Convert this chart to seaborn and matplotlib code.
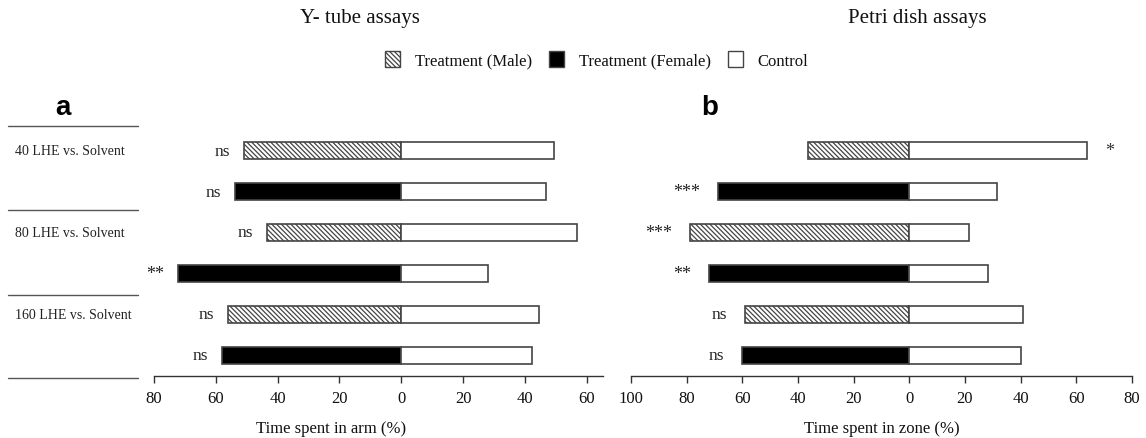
import matplotlib
matplotlib.use("Agg")
import numpy as np
import pandas as pd
import seaborn as sns
import matplotlib.pyplot as plt
from matplotlib.patches import Patch

# ---------------- data ----------------
rows = ["40 LHE Male", "40 LHE Female", "80 LHE Male", "80 LHE Female",
        "160 LHE Male", "160 LHE Female"]
sex = ["Male", "Female", "Male", "Female", "Male", "Female"]
group_labels = ["40 LHE vs. Solvent", "80 LHE vs. Solvent", "160 LHE vs. Solvent"]

ytube_treatment = [51.0, 53.7, 43.4, 72.2, 55.9, 58.1]
ytube_control = [49.3, 46.7, 56.8, 28.1, 44.5, 42.2]
ytube_sig = ["ns", "ns", "ns", "**", "ns", "ns"]

petri_treatment = [36.3, 68.8, 78.8, 72.1, 59.0, 60.0]
petri_control = [63.9, 31.5, 21.6, 28.1, 41.0, 40.0]
petri_sig = ["*", "***", "***", "**", "ns", "ns"]

ytube_ticks = [-80, -60, -40, -20, 0, 20, 40, 60]
petri_ticks = [-100, -80, -60, -40, -20, 0, 20, 40, 60, 80]

# ---------------- style ----------------
sns.set_theme(style="white")
plt.rcParams["font.family"] = ["Liberation Serif", "DejaVu Serif"]
plt.rcParams["hatch.linewidth"] = 0.9
plt.rcParams["hatch.color"] = "#222222"

W, H = 1146, 439
fig = plt.figure(figsize=(W / 100, H / 100), dpi=100)

ax_bottom_px, ax_top_px = 377, 121
b = 1 - ax_bottom_px / H
h = (ax_bottom_px - ax_top_px) / H
YLIM = (5.51, -0.75)

axL = fig.add_axes([154 / W, b, 449 / W, h])
axR = fig.add_axes([631 / W, b, 501 / W, h])
axLab = fig.add_axes([8 / W, b, 130 / W, h])

EDGE = "#444444"
HATCH = "\\" * 7


def draw(ax, treat, ctrl, sig, xlim, ticks, gap_px, xlabel, xlabel_x):
    df = pd.DataFrame({"row": rows, "treat": -np.array(treat), "ctrl": ctrl})
    sns.barplot(data=df, y="row", x="treat", order=rows, color="black",
                saturation=1, width=0.42, edgecolor=EDGE, linewidth=1.2,
                errorbar=None, ax=ax)
    sns.barplot(data=df, y="row", x="ctrl", order=rows, color="white",
                saturation=1, width=0.42, edgecolor=EDGE, linewidth=1.2,
                errorbar=None, ax=ax)
    for i, p in enumerate(ax.patches[:len(rows)]):
        if sex[i] == "Male":
            p.set_facecolor("white")
            p.set_hatch(HATCH)
    for i, s in enumerate(sig):
        fs = 12.5 if s == "ns" else 13
        if s != "ns" and ctrl[i] > treat[i]:
            ax.annotate(s, xy=(ctrl[i], i), xytext=(gap_px, 0),
                        textcoords="offset pixels", ha="left", va="center",
                        fontsize=fs, color="#333333")
        else:
            ax.annotate(s, xy=(-treat[i], i), xytext=(-gap_px, 0),
                        textcoords="offset pixels", ha="right", va="center",
                        fontsize=fs, color="#222222")
    ax.set_xlim(*xlim)
    ax.set_ylim(*YLIM)
    ax.set_yticks([])
    ax.set_ylabel("")
    ax.set_xticks(ticks)
    ax.set_xticklabels([str(abs(t)) for t in ticks], fontsize=12)
    ax.tick_params(axis="x", bottom=True, direction="out", length=5,
                   width=1, color="#333333", pad=5, labelcolor="#111111")
    for side in ["top", "right", "left"]:
        ax.spines[side].set_visible(False)
    ax.spines["bottom"].set_color("#333333")
    ax.spines["bottom"].set_linewidth(1)
    ax.set_xlabel(xlabel, fontsize=12, color="#111111")
    ax.xaxis.set_label_coords(xlabel_x, -0.17)
    ax.set_facecolor("none")


draw(axL, ytube_treatment, ytube_control, ytube_sig, (-80, 65.3),
     ytube_ticks, 14, "Time spent in arm (%)", 0.394)
draw(axR, petri_treatment, petri_control, petri_sig, (-100, 80),
     petri_ticks, 18, "Time spent in zone (%)", 0.5)

# left label column
axLab.set_ylim(*YLIM)
axLab.set_xlim(0, 1)
axLab.axis("off")
for yv in [-0.61, 1.44, 3.53, 5.56]:
    axLab.plot([0, 1], [yv, yv], color="#555555", lw=1, clip_on=False)
for k, lab in enumerate(group_labels):
    axLab.text(7 / 130, 2 * k, lab, ha="left", va="center", fontsize=10,
               color="#222222")

# titles, panel letters
fig.text(360 / W, 1 - 18 / H, "Y- tube assays", ha="center", va="center",
         fontsize=15, color="#111111")
fig.text(917 / W, 1 - 18 / H, "Petri dish assays", ha="center", va="center",
         fontsize=15, color="#111111")
fig.text(63 / W, 1 - 115 / H, "a", ha="center", va="baseline", fontsize=20,
         fontweight="bold", family=["Liberation Sans", "DejaVu Sans"],
         color="black")
fig.text(710 / W, 1 - 115 / H, "b", ha="center", va="baseline", fontsize=20,
         fontweight="bold", family=["Liberation Sans", "DejaVu Sans"],
         color="black")

# legend
handles = [Patch(facecolor="white", edgecolor=EDGE, hatch=HATCH, lw=1),
           Patch(facecolor="black", edgecolor=EDGE, lw=1),
           Patch(facecolor="white", edgecolor=EDGE, lw=1)]
labels = ["Treatment (Male)", "Treatment (Female)", "Control"]
fig.legend(handles, labels, loc="center", bbox_to_anchor=(597 / W, 1 - 61 / H),
           ncol=3, frameon=False, fontsize=12, handlelength=0.9,
           handleheight=1.1, handletextpad=0.9, columnspacing=1.0,
           labelcolor="#111111")

fig.savefig("out.png", dpi=100)
